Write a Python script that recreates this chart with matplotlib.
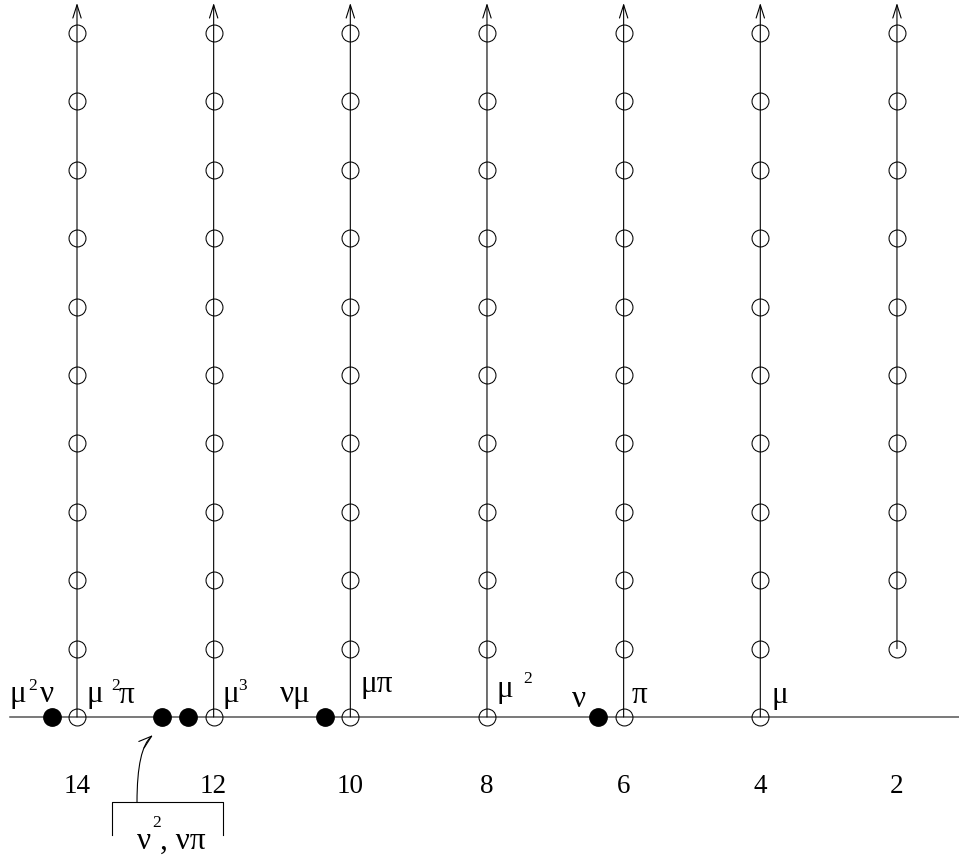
import matplotlib
matplotlib.use("Agg")
import matplotlib.pyplot as plt

# ── data ──────────────────────────────────────────────
stems = [14, 12, 10, 8, 6, 4, 2]          # tower columns
tower_bottom = [0, 0, 0, 0, 0, 0, 1]      # lowest filtration of each tower
tower_top = 10                            # highest circle drawn
dot_x = [14.37, 12.76, 12.37, 10.37, 6.37]  # filled dots on the base line
stem_labels = ["14", "12", "10", "8", "6", "4", "2"]

FONT = ["Liberation Serif", "DejaVu Serif"]

# ── canvas: pixel <-> data helpers ───────────────────
UX, UY = 68.33, 68.4          # pixels per unit
X0, Y0 = 77, 717              # pixel position of (14, 0)


def X(px):
    return 14 - (px - X0) / UX


def Y(py):
    return (Y0 - py) / UY


fig = plt.figure(figsize=(9.59, 8.65), dpi=100)
ax = fig.add_axes([0, 0, 1, 1])
ax.set_xlim(X(0), X(959))
ax.set_ylim(Y(865), Y(0))
ax.axis("off")

# base line
ax.plot([X(10), X(959)], [0, 0], color="#555555", lw=1.1, zorder=1)

# towers
for s, b in zip(stems, tower_bottom):
    ax.annotate("", xy=(s, Y(3)), xytext=(s, b),
                arrowprops=dict(arrowstyle="->,head_length=0.95,head_width=0.3",
                                color="black", lw=0.8, shrinkA=0, shrinkB=0,
                                mutation_scale=10), zorder=2)
    rows = list(range(b, tower_top + 1))
    ax.plot([s] * len(rows), rows, "o", ms=12.2, mfc="none", mec="black",
            mew=0.75, zorder=3)

# filled dots
ax.plot(dot_x, [0] * len(dot_x), "o", ms=12.5, color="black", zorder=3)

# ── labels ───────────────────────────────────────────
greek, big, small = 22.5, 19.5, 12.5


def lab(px, py, s, size=greek):
    ax.text(X(px), Y(py), s, fontsize=size, family=FONT,
            ha="left", va="baseline", zorder=4)


lab(9, 702, "μ"); lab(28, 690, "2", small); lab(40, 702, "ν")
lab(86, 702, "μ"); lab(111, 690, "2", small); lab(119, 703, "π")
lab(222, 702, "μ"); lab(238, 690, "3", small)
lab(280, 702, "νμ")
lab(360, 692, "μπ")
lab(496, 697, "μ"); lab(523, 683, "2", small)
lab(572, 707, "ν")
lab(632, 703, "π")
lab(771, 703, "μ")

for s, t in zip(stems, stem_labels):
    ax.text(s, Y(793), t, fontsize=big, family=FONT,
            ha="center", va="baseline")

# bracket with pointer to the pair of dots
ax.plot([X(112), X(112), X(223), X(223)], [Y(835), Y(802), Y(802), Y(835)],
        color="black", lw=0.8)
ax.annotate("", xy=(X(153), Y(735)), xytext=(X(137), Y(802)),
            arrowprops=dict(arrowstyle="->,head_length=0.95,head_width=0.3",
                            color="black", lw=0.8, shrinkA=0, shrinkB=0,
                            mutation_scale=10,
                            connectionstyle="angle3,angleA=90,angleB=40"))
lab(137, 849, "ν"); lab(152, 827, "2", small); lab(160, 849, ", νπ")

fig.savefig("out.png", dpi=100)
